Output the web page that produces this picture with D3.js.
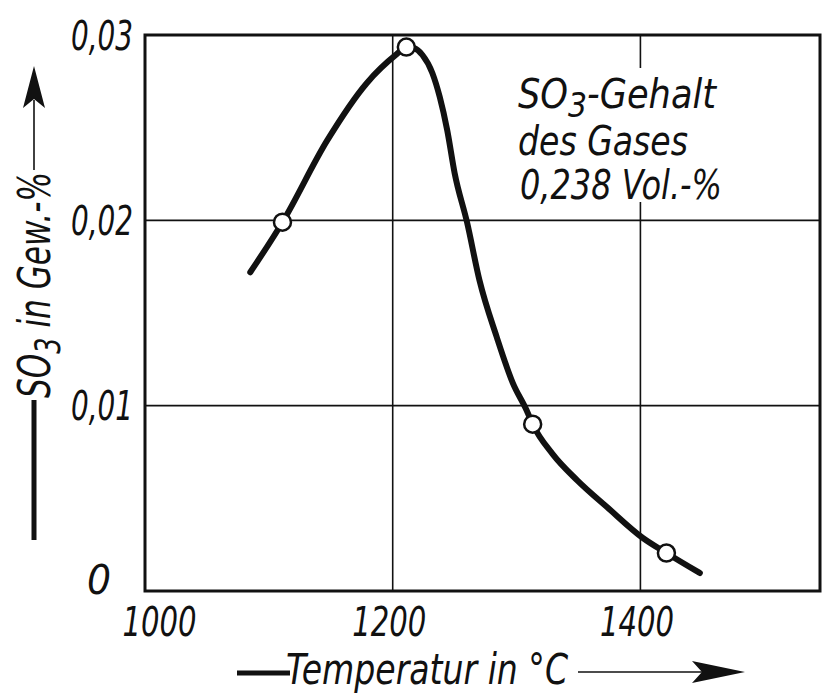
<!DOCTYPE html>
<html>
<head>
<meta charset="utf-8">
<script src="https://cdn.jsdelivr.net/npm/d3@7"></script>
<style>
  body { margin: 0; background: #fff; }
  text { font-family: "DejaVu Sans", sans-serif; font-stretch: condensed; font-style: italic; fill: #111; }
</style>
</head>
<body>
<script>
var w = 824, h = 693;

// measured points (circles)
var pointTemps = [1111, 1211, 1313, 1421];
var pointValues = [0.0199, 0.02935, 0.0090, 0.00205];

// drawn curve
var curveTemps = [1085, 1111, 1147, 1179, 1203, 1211, 1217, 1224, 1232, 1238, 1244, 1250, 1260, 1270, 1284, 1297, 1308, 1313, 1329, 1349, 1373, 1402, 1421, 1448];
var curveValues = [0.0172, 0.0199, 0.0243, 0.0274, 0.02895, 0.02935, 0.0293, 0.02892, 0.02795, 0.02665, 0.02487, 0.02255, 0.0199, 0.01678, 0.0137, 0.01122, 0.00977, 0.0090, 0.0074, 0.00597, 0.00453, 0.00286, 0.00205, 0.00097];

var xTicks = [1000, 1200, 1400];
var xTickLabels = ["1000", "1200", "1400"];
var yTicks = [0, 0.01, 0.02, 0.03];
var yTickLabels = ["0", "0,01", "0,02", "0,03"];

var svg = d3.select("body")
      .append("svg")
      .attr("width", w)
      .attr("height", h);

var xScale = d3.scaleLinear()
        .domain([1000, 1545])
        .range([145, 820]);

var yScale = d3.scaleLinear()
        .domain([0, 0.03])
        .range([591, 35]);

// grid
svg.append("g")
  .selectAll("line")
  .data(xTicks.slice(1))
  .enter().append("line")
  .attr("x1", d => xScale(d)).attr("x2", d => xScale(d))
  .attr("y1", yScale(0)).attr("y2", yScale(0.03))
  .attr("stroke", "#111").attr("stroke-width", 1.6);

svg.append("g")
  .selectAll("line")
  .data(yTicks.slice(1))
  .enter().append("line")
  .attr("x1", xScale(1000)).attr("x2", xScale(1545))
  .attr("y1", d => yScale(d)).attr("y2", d => yScale(d))
  .attr("stroke", "#111").attr("stroke-width", 1.6);

// white box behind the note
svg.append("rect")
  .attr("x", 512).attr("y", 68)
  .attr("width", 222).attr("height", 134)
  .attr("fill", "#fff");

// frame
svg.append("rect")
  .attr("x", xScale(1000)).attr("y", yScale(0.03))
  .attr("width", xScale(1545) - xScale(1000))
  .attr("height", yScale(0) - yScale(0.03))
  .attr("fill", "none")
  .attr("stroke", "#111").attr("stroke-width", 3);

// tick labels
var xAxis = d3.axisBottom(xScale)
  .tickValues(xTicks)
  .tickSize(0)
  .tickPadding(17)
  .tickFormat((d, i) => xTickLabels[i]);

var gx = svg.append("g")
  .attr("transform", `translate(0, ${yScale(0)})`)
  .call(xAxis);
gx.select(".domain").remove();
gx.selectAll("text")
  .attr("font-size", 40)
  .attr("font-family", null)
  .attr("textLength", 74)
  .attr("lengthAdjust", "spacingAndGlyphs")
  .attr("dx", d => d == 1000 ? 14 : -4);

var yAxis = d3.axisLeft(yScale)
  .tickValues(yTicks)
  .tickSize(0)
  .tickPadding(12)
  .tickFormat((d, i) => yTickLabels[i]);

var gy = svg.append("g")
  .attr("transform", `translate(${xScale(1000)}, 0)`)
  .call(yAxis);
gy.select(".domain").remove();
gy.selectAll("text")
  .attr("font-size", 40)
  .attr("font-family", null)
  .attr("textLength", d => d == 0 ? 24 : 62)
  .attr("lengthAdjust", "spacingAndGlyphs")
  .attr("dx", d => d == 0 ? -22 : 0)
  .attr("dy", d => d == 0 ? "0.05em" : "0.35em");

// curve
var line = d3.line()
  .x((d, i) => xScale(curveTemps[i]))
  .y((d, i) => yScale(curveValues[i]))
  .curve(d3.curveMonotoneX);

svg.append("path")
  .datum(curveTemps)
  .attr("d", line)
  .attr("fill", "none")
  .attr("stroke", "#111")
  .attr("stroke-width", 6)
  .attr("stroke-linecap", "round");

svg.selectAll("circle")
  .data(pointTemps)
  .enter()
  .append("circle")
  .attr("cx", d => xScale(d))
  .attr("cy", (d, i) => yScale(pointValues[i]))
  .attr("r", 8.5)
  .attr("fill", "#fff")
  .attr("stroke", "#111")
  .attr("stroke-width", 2.5);

// note
var n1 = svg.append("text")
  .attr("x", 518).attr("y", 108)
  .attr("font-size", 40)
  .attr("textLength", 198)
  .attr("lengthAdjust", "spacingAndGlyphs");
n1.append("tspan").text("SO");
n1.append("tspan").attr("dy", 9).attr("font-size", 34).text("3");
n1.append("tspan").attr("dy", -9).text("-Gehalt");
svg.append("text")
  .attr("x", 518).attr("y", 155)
  .attr("font-size", 40)
  .attr("textLength", 170)
  .attr("lengthAdjust", "spacingAndGlyphs")
  .text("des Gases");
svg.append("text")
  .attr("x", 520).attr("y", 199)
  .attr("font-size", 40)
  .attr("textLength", 202)
  .attr("lengthAdjust", "spacingAndGlyphs")
  .text("0,238 Vol.-%");

// x axis title
svg.append("line")
  .attr("x1", 237).attr("x2", 290).attr("y1", 673).attr("y2", 673)
  .attr("stroke", "#111").attr("stroke-width", 5);
svg.append("text")
  .attr("x", 286).attr("y", 684)
  .attr("font-size", 42)
  .attr("textLength", 282)
  .attr("lengthAdjust", "spacingAndGlyphs")
  .text("Temperatur in °C");
svg.append("line")
  .attr("x1", 578).attr("x2", 710).attr("y1", 672).attr("y2", 672)
  .attr("stroke", "#111").attr("stroke-width", 1.6);
svg.append("path")
  .attr("d", "M745,672 L692,661 L702,672 L692,683 Z")
  .attr("fill", "#111");

// y axis title
svg.append("line")
  .attr("x1", 34).attr("x2", 34).attr("y1", 540).attr("y2", 400)
  .attr("stroke", "#111").attr("stroke-width", 5);
var yt = svg.append("text")
  .attr("transform", "translate(50, 398) rotate(-90)")
  .attr("font-size", 44)
  .attr("textLength", 226)
  .attr("lengthAdjust", "spacingAndGlyphs");
yt.append("tspan").text("SO");
yt.append("tspan").attr("dy", 10).attr("font-size", 36).text("3");
yt.append("tspan").attr("dy", -10).text(" in Gew.-%");
svg.append("line")
  .attr("x1", 34).attr("x2", 34).attr("y1", 170).attr("y2", 100)
  .attr("stroke", "#111").attr("stroke-width", 1.6);
svg.append("path")
  .attr("d", "M34,66 L23,108 L34,99 L45,108 Z")
  .attr("fill", "#111");
</script>
</body>
</html>
